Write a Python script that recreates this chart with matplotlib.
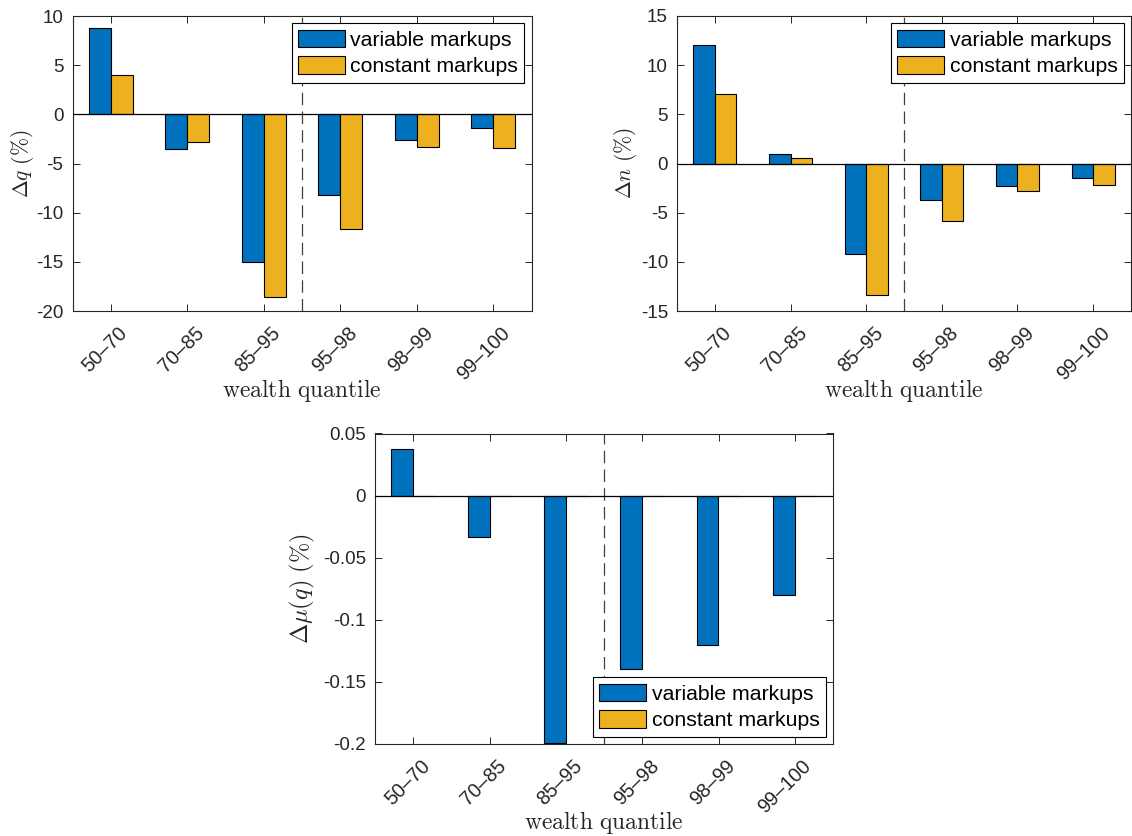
import matplotlib
matplotlib.use("Agg")
import matplotlib.pyplot as plt
from matplotlib.ticker import FuncFormatter
from matplotlib.transforms import ScaledTranslation
import numpy as np

plt.rcParams['font.family'] = ['Liberation Sans', 'DejaVu Sans']
plt.rcParams['mathtext.fontset'] = 'cm'
plt.rcParams['axes.unicode_minus'] = False

# Wealth quantile groups
categories = ['50–70', '70–85', '85–95', '95–98', '98–99', '99–100']

# Change in quantity (%)
dq_variable = [8.8, -3.5, -15.0, -8.25, -2.65, -1.35]
dq_constant = [4.05, -2.85, -18.6, -11.7, -3.35, -3.4]

# Change in number of varieties (%)
dn_variable = [12.05, 0.95, -9.2, -3.75, -2.3, -1.5]
dn_constant = [7.05, 0.6, -13.35, -5.85, -2.75, -2.15]

# Change in markup (%)
dmu_variable = [0.0375, -0.033, -0.199, -0.140, -0.120, -0.080]
dmu_constant = [0.0, 0.0, 0.0, 0.0, 0.0, 0.0]

series_names = ['variable markups', 'constant markups']

BLUE = '#0072BD'
YELLOW = '#EDB120'
AXC = '#262626'

W, H = 1132, 836
fig = plt.figure(figsize=(W / 100, H / 100), dpi=100)


def px_axes(left, top, right, bottom):
    return fig.add_axes([left / W, 1 - bottom / H, (right - left) / W, (bottom - top) / H])


def draw_panel(ax, var, const, ylim, yticks, ylabel, ylabel_x, ylabel_size,
               xlabel_y, legend_loc):
    x = np.arange(1, len(categories) + 1)
    w = 0.285
    ax.bar(x - w / 2, var, width=w, color=BLUE, edgecolor='black', linewidth=0.8,
           label=series_names[0], zorder=2)
    ax.bar(x + w / 2, const, width=w, color=YELLOW, edgecolor='black', linewidth=0.8,
           label=series_names[1], zorder=2)
    ax.axhline(0, color='black', linewidth=0.9, zorder=3)
    ax.axvline(3.5, color='#404040', linewidth=0.9, dashes=(10, 5), zorder=1)

    ax.set_xlim(0.5, 6.5)
    ax.set_ylim(*ylim)
    ax.set_xticks(x)
    ax.set_xticklabels(categories)
    ax.set_yticks(yticks)
    ax.yaxis.set_major_formatter(FuncFormatter(lambda v, p: '%g' % round(v, 6)))

    ax.tick_params(direction='in', length=5, width=0.7, colors=AXC,
                   top=True, right=True)
    ax.tick_params(axis='y', pad=6.5, labelsize=13.5)
    ax.tick_params(axis='x', pad=7, labelsize=14.3)
    shift = ScaledTranslation(7 / 100, -3 / 100, fig.dpi_scale_trans)
    for lab in ax.get_xticklabels():
        lab.set_rotation(45)
        lab.set_ha('right')
        lab.set_va('top')
        lab.set_rotation_mode('anchor')
        lab.set_transform(lab.get_transform() + shift)
    for sp in ax.spines.values():
        sp.set_color(AXC)
        sp.set_linewidth(0.8)

    ax.set_ylabel(ylabel, fontsize=ylabel_size, color=AXC)
    ax.yaxis.label.set_va('center')
    ax.yaxis.set_label_coords(ylabel_x, 0.5)
    ax.set_xlabel(r'$\mathrm{wealth\ quantile}$', fontsize=17, color=AXC)
    ax.xaxis.label.set_va('center')
    ax.xaxis.set_label_coords(0.5, xlabel_y)

    leg = ax.legend(loc=legend_loc, fontsize=15.3, frameon=True, fancybox=False,
                    edgecolor='black', framealpha=1, handlelength=2.2,
                    handleheight=0.9, labelspacing=0.3, borderpad=0.3,
                    handletextpad=0.25, borderaxespad=0.34)
    leg.get_frame().set_linewidth(0.8)
    for t in leg.get_texts():
        t.set_color('black')


ax1 = px_axes(72.5, 16, 531.5, 311)
draw_panel(ax1, dq_variable, dq_constant, (-20, 10), np.arange(-20, 11, 5),
           r'$\Delta q\ (\%)$', -0.110, 15.5, -0.268, 'upper right')

ax2 = px_axes(677, 16, 1131, 311)
draw_panel(ax2, dn_variable, dn_constant, (-15, 15), np.arange(-15, 16, 5),
           r'$\Delta n\ (\%)$', -0.1145, 15.5, -0.268, 'upper right')

ax3 = px_axes(375, 433.5, 833, 744)
draw_panel(ax3, dmu_variable, dmu_constant, (-0.2, 0.05),
           [-0.2, -0.15, -0.1, -0.05, 0, 0.05],
           r'$\Delta\mu(q)\ (\%)$', -0.159, 17.5, -0.254, 'lower right')

fig.savefig('out.png', dpi=100, facecolor='white')
